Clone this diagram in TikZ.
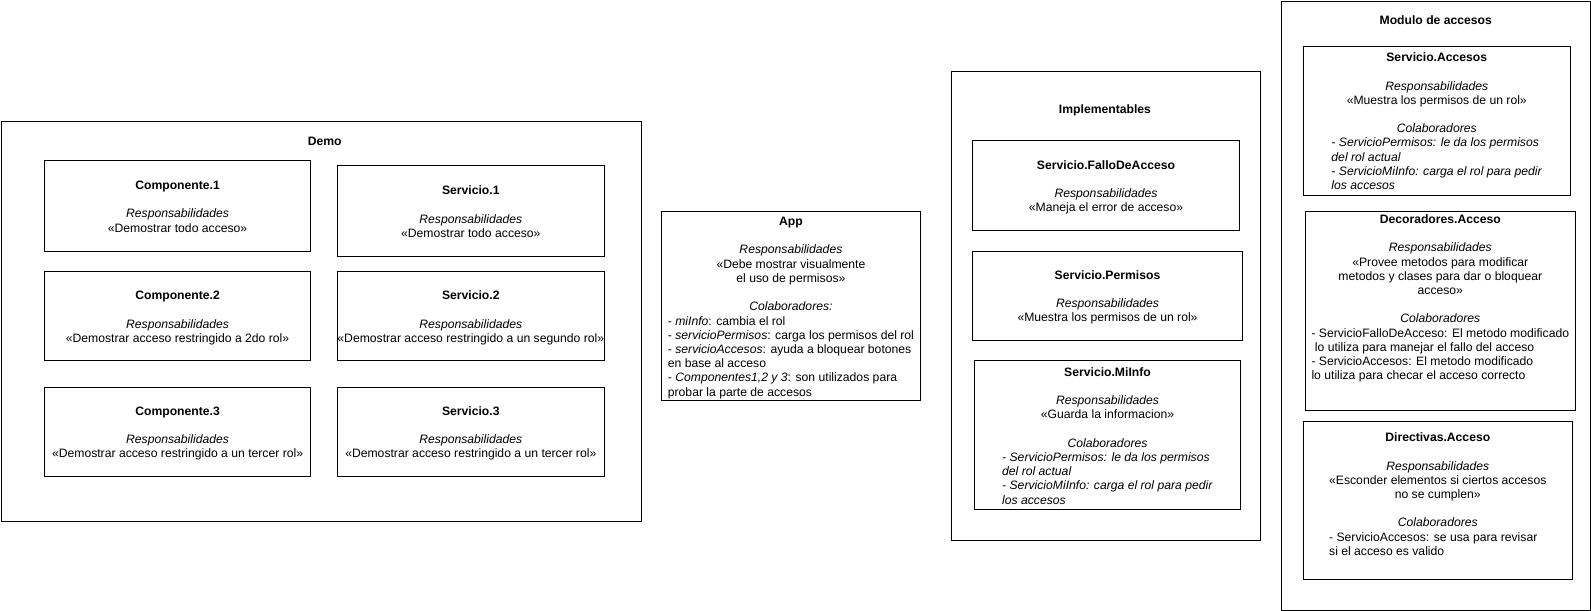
\documentclass[tikz,border=0pt]{standalone}
\usepackage{fontspec}
\setmainfont{Liberation Sans}
\usepackage{array}
\newcommand{\lft}[1]{\multicolumn{1}{@{}l@{}}{#1}}
\newcommand{\cardtext}[1]{\raisebox{-2pt}[\height][\depth]{\begin{tabular}{@{}c@{}}#1\end{tabular}}}
\tikzset{
    group/.style={draw,line width=1pt,inner sep=0pt,anchor=north west},
    card/.style={draw,line width=1pt,inner sep=0pt,anchor=north west},
    heading/.style={font=\fontsize{12}{14}\selectfont\bfseries}
}

\begin{document}
\begin{tikzpicture}[x=1pt, y=-1pt, scale=1.0147, transform shape, every node/.style={font=\fontsize{12}{14}\selectfont}]
			\useasboundingbox (0,0) rectangle (1568,602.15);
			\node[group, minimum width=631pt, minimum height=394pt] (demo) at (0.5,119) {};
			\node[heading] (demoT) at (320,139) {Demo};
			\node[card, minimum width=263pt, minimum height=89pt] (comp1) at (43,158) {\cardtext{\textbf{Componente.1}\\ \\ \textit{Responsabilidades}\\ «Demostrar todo acceso»}};
			\node[card, minimum width=263pt, minimum height=89pt] (serv1) at (332,163) {\cardtext{\textbf{Servicio.1}\\ \\ \textit{Responsabilidades}\\ «Demostrar todo acceso»}};
			\node[card, minimum width=263pt, minimum height=88pt] (comp2) at (43,267) {\cardtext{\textbf{Componente.2}\\ \\ \textit{Responsabilidades}\\ «Demostrar acceso restringido a 2do rol»}};
			\node[card, minimum width=263pt, minimum height=88pt] (serv2) at (332,267) {\cardtext{\textbf{Servicio.2}\\ \\ \textit{Responsabilidades}\\ «Demostrar acceso restringido a un segundo rol»}};
			\node[card, minimum width=263pt, minimum height=88pt] (comp3) at (43,381) {\cardtext{\textbf{Componente.3}\\ \\ \textit{Responsabilidades}\\ «Demostrar acceso restringido a un tercer rol»}};
			\node[card, minimum width=263pt, minimum height=88pt] (serv3) at (332,381) {\cardtext{\textbf{Servicio.3}\\ \\ \textit{Responsabilidades}\\ «Demostrar acceso restringido a un tercer rol»}};
			\node[card, minimum width=256pt, minimum height=186pt] (app) at (651,208) {\cardtext{\textbf{App}\\ \\ \textit{Responsabilidades}\\ «Debe mostrar visualmente\\ el uso de permisos»\\ \\ \textit{Colaboradores:}\\ \lft{- \textit{miInfo}: cambia el rol}\\ \lft{- \textit{servicioPermisos}: carga los permisos del rol}\\ \lft{- \textit{servicioAccesos}: ayuda a bloquear botones}\\ \lft{en base al acceso}\\ \lft{- \textit{Componentes1,2 y 3}: son utilizados para}\\ \lft{probar la parte de accesos}}};
			\node[group, minimum width=305pt, minimum height=462pt] (impl) at (937,70) {};
			\node[heading] (implT) at (1089,109) {Implementables};
			\node[card, minimum width=263pt, minimum height=89pt] (fallo) at (958,138) {\cardtext{\textbf{Servicio.FalloDeAcceso}\\ \\ \textit{Responsabilidades}\\ «Maneja el error de acceso»}};
			\node[card, minimum width=266pt, minimum height=88pt] (perm) at (958,247) {\cardtext{\textbf{Servicio.Permisos}\\ \\ \textit{Responsabilidades}\\ «Muestra los permisos de un rol»}};
			\node[card, minimum width=262pt, minimum height=147pt] (miinfo) at (960,355) {\cardtext{\textbf{Servicio.MiInfo}\\ \\ \textit{Responsabilidades}\\ «Guarda la informacion»\\ \\ \textit{Colaboradores}\\ \lft{\textit{- ServicioPermisos: le da los permisos}}\\ \lft{\textit{del rol actual}}\\ \lft{\textit{- ServicioMiInfo: carga el rol para pedir}}\\ \lft{\textit{los accesos}}}};
			\node[group, minimum width=305pt, minimum height=600.5pt] (modulo) at (1262,0.5) {};
			\node[heading] (moduloT) at (1415,20) {Modulo de accesos};
			\node[card, minimum width=263pt, minimum height=147pt] (accesos) at (1284,45) {\cardtext{\textbf{Servicio.Accesos}\\ \\ \textit{Responsabilidades}\\ «Muestra los permisos de un rol»\\ \\ \textit{Colaboradores}\\ \lft{\textit{- ServicioPermisos: le da los permisos}}\\ \lft{\textit{del rol actual}}\\ \lft{\textit{- ServicioMiInfo: carga el rol para pedir}}\\ \lft{\textit{los accesos}}}};
			\node[card, minimum width=266pt, minimum height=196pt] (decor) at (1286,208) {\cardtext{\textbf{Decoradores.Acceso}\\ \\ \textit{Responsabilidades}\\ «Provee metodos para modificar\\ metodos y clases para dar o bloquear\\ acceso»\\ \\ \textit{Colaboradores}\\ \lft{- ServicioFalloDeAcceso: El metodo modificado}\\ \lft{\ lo utiliza para manejar el fallo del acceso}\\ \lft{- ServicioAccesos: El metodo modificado}\\ \lft{lo utiliza para checar el acceso correcto}\\ \\ \\ }};
			\node[card, minimum width=265pt, minimum height=156pt] (direct) at (1284,415) {\cardtext{\textbf{Directivas.Acceso}\\ \\ \textit{Responsabilidades}\\ «Esconder elementos si ciertos accesos\\ no se cumplen»\\ \\ \textit{Colaboradores}\\ \lft{- ServicioAccesos: se usa para revisar}\\ \lft{si el acceso es valido}\\ \\ }};
		\end{tikzpicture}
\end{document}
